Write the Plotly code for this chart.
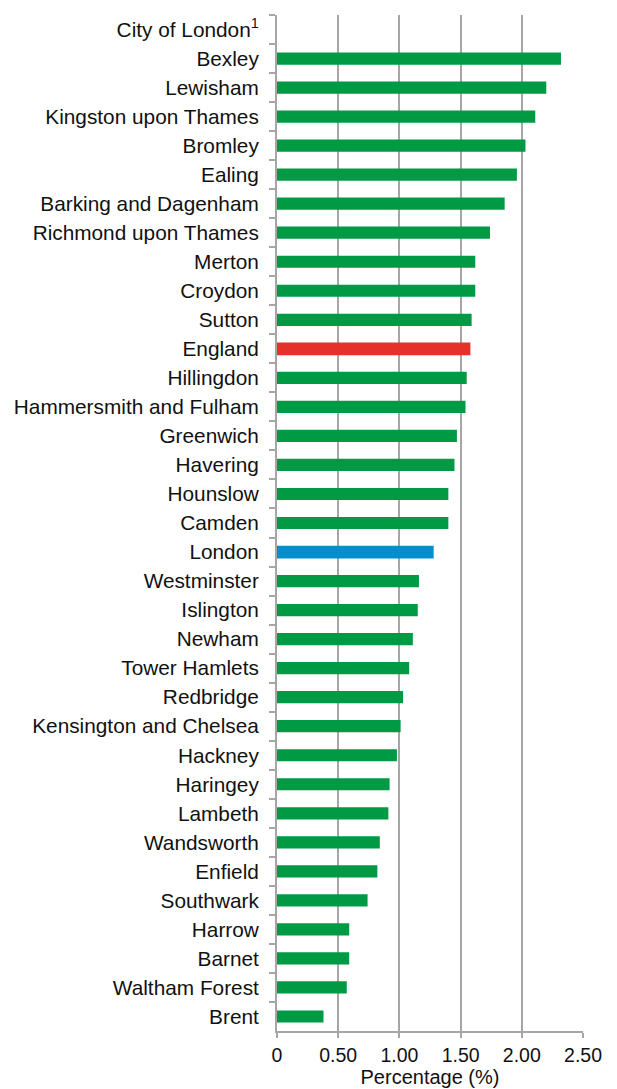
import plotly.graph_objects as go

categories = ["City of London<sup>1</sup>", "Bexley", "Lewisham", "Kingston upon Thames", "Bromley",
              "Ealing", "Barking and Dagenham", "Richmond upon Thames", "Merton", "Croydon",
              "Sutton", "England", "Hillingdon", "Hammersmith and Fulham", "Greenwich",
              "Havering", "Hounslow", "Camden", "London", "Westminster", "Islington",
              "Newham", "Tower Hamlets", "Redbridge", "Kensington and Chelsea", "Hackney",
              "Haringey", "Lambeth", "Wandsworth", "Enfield", "Southwark", "Harrow",
              "Barnet", "Waltham Forest", "Brent"]
values = [None, 2.32, 2.20, 2.11, 2.03, 1.96, 1.86, 1.74, 1.62, 1.62,
          1.59, 1.58, 1.55, 1.54, 1.47, 1.45, 1.40, 1.40, 1.28, 1.16, 1.15,
          1.11, 1.08, 1.03, 1.01, 0.98, 0.92, 0.91, 0.84, 0.82, 0.74, 0.59,
          0.59, 0.57, 0.38]
x_tickvals = [0, 0.5, 1.0, 1.5, 2.0, 2.5]
x_ticktext = ["0", "0.50", "1.00", "1.50", "2.00", "2.50"]

GREEN = "#009A44"
RED = "#E4322B"
BLUE = "#008FCC"
colors = [RED if c == "England" else BLUE if c == "London" else GREEN for c in categories]
widths = [0.44 if c in ("England", "London") else 0.42 for c in categories]

fig = go.Figure(go.Bar(
    x=values, y=categories, orientation="h",
    marker=dict(color=colors, line=dict(width=0)),
    width=widths, hoverinfo="x+y"))

GRID = "#A6A6A6"
FONT = "Liberation Sans, Arial, sans-serif"
# page body has an 8px default margin, so the figure is sized to fit the window
fig.update_layout(
    width=609, height=1081,
    margin=dict(l=269, r=34, t=7, b=58),
    paper_bgcolor="white", plot_bgcolor="white",
    font=dict(family=FONT, size=20, color="#111111"),
    showlegend=False,
    xaxis=dict(range=[0, 2.5], tickvals=x_tickvals, ticktext=x_ticktext,
               showgrid=True, gridcolor=GRID, gridwidth=2,
               showline=True, linecolor=GRID, linewidth=2,
               ticks="outside", ticklen=5, tickcolor=GRID, tickwidth=2,
               ticklabelstandoff=1,
               zeroline=False, tickfont=dict(size=19.5), automargin=False,
               title=dict(text="Percentage (%)", font=dict(size=20), standoff=0)),
    yaxis=dict(autorange="reversed", type="category",
               showgrid=False, showline=True, linecolor=GRID, linewidth=2,
               ticks="outside", tickson="boundaries", ticklen=6, tickcolor=GRID, tickwidth=2,
               ticklabelstandoff=12, tickfont=dict(size=20.8), automargin=False),
)

fig.write_html("out.html")
